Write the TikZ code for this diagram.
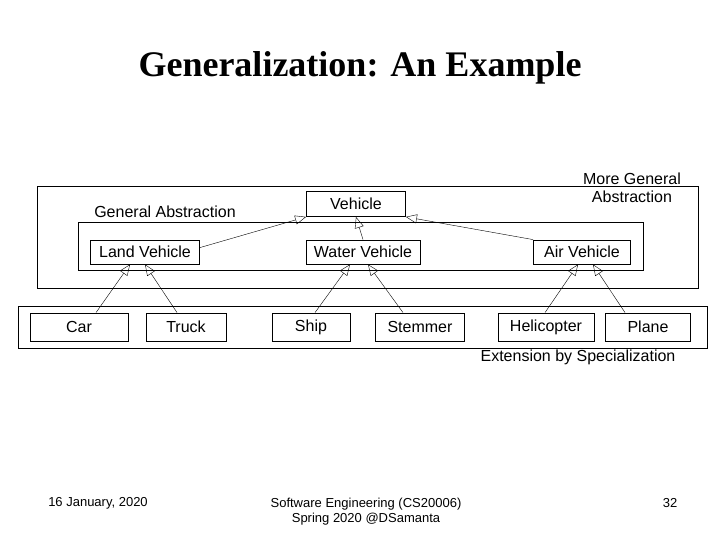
\documentclass[tikz,border=0pt]{standalone}
\usepackage{fontspec}
\setmainfont{Liberation Sans}
\newfontfamily\titlefont{Liberation Serif}
\usetikzlibrary{arrows.meta}
\begin{document}
\begin{tikzpicture}[x=1pt,y=-1pt,
  cls/.style={draw,thick,inner sep=0pt,font=\fontsize{16}{18}\selectfont},
  lbl/.style={font=\fontsize{16}{18}\selectfont,align=center},
  foot/.style={font=\fontsize{13}{15}\selectfont,align=center},
  gen/.style={-{Triangle[open,length=11pt,width=9pt]},thin}]
\useasboundingbox (0,0) rectangle (720,540);
\node[font=\titlefont\bfseries\fontsize{36}{40}\selectfont] (title) at (360,68) {Generalization: An Example};
\node[draw,thick,minimum width=661,minimum height=102,anchor=north west] (outer) at (37,186) {};
\node[draw,thick,minimum width=565,minimum height=48,anchor=north west] (inner) at (78,222) {};
\node[draw,thick,minimum width=689,minimum height=42,anchor=north west] (bottom) at (18,306) {};
\node[cls,minimum width=99,minimum height=25] (veh) at (356,204) {Vehicle};
\node[cls,minimum width=109,minimum height=24] (land) at (145,252) {Land Vehicle};
\node[cls,minimum width=114,minimum height=24] (water) at (363,252) {Water Vehicle};
\node[cls,minimum width=97,minimum height=24] (air) at (582,252) {Air Vehicle};
\node[cls,minimum width=98,minimum height=28] (car) at (79,327) {Car};
\node[cls,minimum width=80,minimum height=28] (truck) at (186,327) {Truck};
\node[cls,minimum width=78,minimum height=28] (ship) at (311,327) {Ship};
\node[cls,minimum width=89,minimum height=28] (stem) at (420,327) {Stemmer};
\node[cls,minimum width=96,minimum height=28] (heli) at (546,327) {Helicopter};
\node[cls,minimum width=85,minimum height=28] (plane) at (648,327) {Plane};
\node[lbl] (ga) at (165,212) {General Abstraction};
\node[lbl] (mga) at (632,188) {More General\\Abstraction};
\node[lbl] (ext) at (578,357) {Extension by Specialization};
\draw[gen] (land.north east) ++(0,8) -- (veh.south west);
\draw[gen] (air.north west) -- (veh.south east);
\draw[gen] (water.north) -- (veh.south);
\draw[gen] ([xshift=17]car.north) -- ([xshift=-15]land.south);
\draw[gen] ([xshift=-9]truck.north) -- ([xshift=0]land.south);
\draw[gen] ([xshift=4]ship.north) -- ([xshift=-13]water.south);
\draw[gen] ([xshift=-17]stem.north) -- ([xshift=5]water.south);
\draw[gen] ([xshift=-1]heli.north) -- ([xshift=-4]air.south);
\draw[gen] ([xshift=-23]plane.north) -- ([xshift=11]air.south);
\node[foot] (date) at (98,503) {16 January, 2020};
\node[foot] (course) at (366,512) {Software Engineering (CS20006)\\Spring 2020 @DSamanta};
\node[foot] (page) at (670,503) {32};
\end{tikzpicture}
\end{document}
